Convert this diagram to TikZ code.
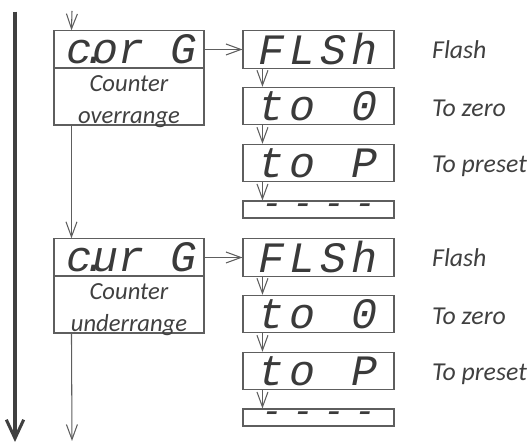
\documentclass[tikz,border=0pt]{standalone}
\usepackage{fontspec}
\setmainfont{Carlito}
\newfontfamily\segfont{Liberation Mono}
\usetikzlibrary{arrows.meta}
\definecolor{linegray}{HTML}{5E5E5E}
\definecolor{textgray}{HTML}{404040}
\definecolor{seggray}{HTML}{3A3A3A}
\newcommand{\segfour}[4]{\makebox[0.93cm]{#1}\makebox[0.93cm]{#2}\makebox[0.93cm]{#3}\makebox[0.93cm]{#4}}
\newcommand{\segdot}{\makebox[0pt]{\kern0.12em.}}

\begin{document}
\begin{tikzpicture}[
    >={Straight Barb[length=0.45cm, width=0.33cm]},
    arrow/.style={->, draw=linegray, line width=0.9pt},
    bigarrow/.style={-{Straight Barb[length=0.56cm, width=0.52cm, line width=2.6pt]}, draw=textgray, line width=3pt},
    segbox/.style={draw=linegray, line width=0.9pt, inner sep=0pt, text=seggray,
        minimum width=4.53cm, minimum height=1.12cm,
        font=\segfont\itshape\fontsize{37}{37}\selectfont},
    modebox/.style={segbox, minimum width=4.5cm},
    dashbox/.style={segbox, minimum height=0.51cm, font=\segfont\itshape\fontsize{30}{30}\selectfont},
    lowbox/.style={draw=linegray, line width=0.9pt, minimum width=4.5cm, minimum height=1.71cm},
    lowtext/.style={align=center, inner sep=0pt, text=textgray,
        font=\itshape\fontsize{21}{27.5}\selectfont},
    label/.style={anchor=base west, inner sep=0pt, text=textgray,
        font=\itshape\fontsize{22}{26}\selectfont}
]
\useasboundingbox (0,0) rectangle (15.81,13.29);

% Overall flow
\coordinate (flowtop) at (0.45,12.94);
\coordinate (flowend) at (0.45,0.03);
\draw[bigarrow] (flowtop) -- (flowend);

% Counter overrange
\node[modebox] (corg) at (3.87,11.805) {\kern0.16cm c\segdot or\ G};
\node[lowbox] (over) at (3.87,10.395) {};
\node[lowtext] (overtext) at (3.87,10.245) {Counter\\overrange};

\node[segbox] (flsh1) at (9.555,11.805) {\segfour{F}{L}{S}{h}};
\node[segbox] (zero1) at (9.555,10.11) {\segfour{t}{o}{}{0}};
\node[segbox] (pre1) at (9.555,8.40) {\segfour{t}{o}{}{P}};
\node[dashbox] (none1) at (9.555,7.005) {\segfour{-}{-}{-}{-}};

\node[label] (flshtext1) at (12.96,11.52) {Flash};
\node[label] (zerotext1) at (12.96,9.78) {To zero};
\node[label] (pretext1) at (12.96,8.10) {To preset};

% Counter underrange
\node[modebox] (curg) at (3.87,5.565) {\kern0.16cm c\segdot ur\ G};
\node[lowbox] (under) at (3.87,4.155) {};
\node[lowtext] (undertext) at (3.87,4.005) {Counter\\underrange};

\node[segbox] (flsh2) at (9.555,5.565) {\segfour{F}{L}{S}{h}};
\node[segbox] (zero2) at (9.555,3.87) {\segfour{t}{o}{}{0}};
\node[segbox] (pre2) at (9.555,2.16) {\segfour{t}{o}{}{P}};
\node[dashbox] (none2) at (9.555,0.765) {\segfour{-}{-}{-}{-}};

\node[label] (flshtext2) at (12.96,5.28) {Flash};
\node[label] (zerotext2) at (12.96,3.54) {To zero};
\node[label] (pretext2) at (12.96,1.86) {To preset};

% Arrows
\coordinate (entry) at (2.16,12.96);
\coordinate (exit) at (2.16,0.06);
\draw[arrow] (entry) -- ([xshift=0.54cm]corg.north west);
\draw[arrow] ([xshift=0.54cm]over.south west) -- ([xshift=0.54cm]curg.north west);
\draw[arrow] ([xshift=0.54cm]under.south west) -- (exit);

\draw[arrow] (corg.east) -- (flsh1.west);
\draw[arrow] ([xshift=0.6cm]flsh1.south west) -- ([xshift=0.6cm]zero1.north west);
\draw[arrow] ([xshift=0.6cm]zero1.south west) -- ([xshift=0.6cm]pre1.north west);
\draw[arrow] ([xshift=0.6cm]pre1.south west) -- ([xshift=0.6cm]none1.north west);

\draw[arrow] (curg.east) -- (flsh2.west);
\draw[arrow] ([xshift=0.6cm]flsh2.south west) -- ([xshift=0.6cm]zero2.north west);
\draw[arrow] ([xshift=0.6cm]zero2.south west) -- ([xshift=0.6cm]pre2.north west);
\draw[arrow] ([xshift=0.6cm]pre2.south west) -- ([xshift=0.6cm]none2.north west);

\end{tikzpicture}
\end{document}
